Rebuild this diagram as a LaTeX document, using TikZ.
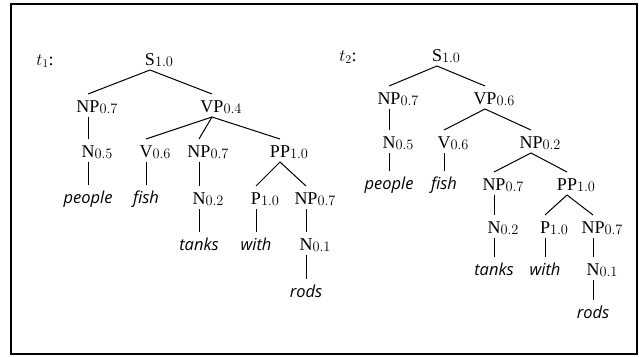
\documentclass[tikz,border=0pt]{standalone}
\usepackage{fontspec}
\setmainfont{Liberation Serif}
\newfontfamily\wordfont{Open Sans}
\newcommand{\lab}[2]{#1\rlap{\raisebox{-1pt}{\fontsize{14}{14}\selectfont$#2$}}}
\newcommand{\wrd}[1]{{\wordfont\itshape\fontsize{16.5}{18}\selectfont #1}}
\tikzset{
  tn/.style={anchor=base, inner sep=1pt, outer sep=0pt, text height=17pt, text depth=4pt, font=\fontsize{18}{20}\selectfont},
  br/.style={line width=1pt},
}
\begin{document}
\begin{tikzpicture}[x=1pt,y=-1pt]
\useasboundingbox (0,0) rectangle (639,356);
\draw[line width=2.4pt] (11,4) rectangle (637,354);
% tree 1
\node[tn] (t1) at (45,65) {$t_1$:};
\node[tn] (a0) at (150,65) {\lab{S}{1.0}};
\node[tn] (a1) at (88,112) {\lab{NP}{0.7}};
\node[tn] (a2) at (212,112) {\lab{VP}{0.4}};
\node[tn] (a3) at (88,157) {\lab{N}{0.5}};
\node[tn] (a4) at (146,157) {\lab{V}{0.6}};
\node[tn] (a5) at (199,157) {\lab{NP}{0.7}};
\node[tn] (a6) at (280,157) {\lab{PP}{1.0}};
\node[tn] (a7) at (88,203) {\wrd{people}};
\node[tn] (a8) at (146,203) {\wrd{fish}};
\node[tn] (a9) at (199,204) {\lab{N}{0.2}};
\node[tn] (a10) at (256,204) {\lab{P}{1.0}};
\node[tn] (a11) at (306,204) {\lab{NP}{0.7}};
\node[tn] (a12) at (199,250) {\wrd{tanks}};
\node[tn] (a13) at (256,250) {\wrd{with}};
\node[tn] (a14) at (306,250) {\lab{N}{0.1}};
\node[tn] (a15) at (306,297) {\wrd{rods}};
\draw[br] (a1.north) -- (a0.south) -- (a2.north);
\draw[br] (a1.south) -- (a3.north);
\draw[br] (a4.north) -- (a2.south) -- (a6.north);
\draw[br] (a2.south) -- (a5.north);
\draw[br] (a3.south) -- (a7.north);
\draw[br] (a4.south) -- (a8.north);
\draw[br] (a5.south) -- (a9.north);
\draw[br] (a10.north) -- (a6.south) -- (a11.north);
\draw[br] (a9.south) -- (a12.north);
\draw[br] (a10.south) -- (a13.north);
\draw[br] (a11.south) -- (a14.north);
\draw[br] (a14.south) -- (a15.north);
% tree 2
\node[tn] (t2) at (348,61) {$t_2$:};
\node[tn] (b0) at (437,61) {\lab{S}{1.0}};
\node[tn] (b1) at (389,104) {\lab{NP}{0.7}};
\node[tn] (b2) at (485,104) {\lab{VP}{0.6}};
\node[tn] (b3) at (389,148) {\lab{N}{0.5}};
\node[tn] (b4) at (444,148) {\lab{V}{0.6}};
\node[tn] (b5) at (531,148) {\lab{NP}{0.2}};
\node[tn] (b6) at (389,189) {\wrd{people}};
\node[tn] (b7) at (444,189) {\wrd{fish}};
\node[tn] (b8) at (494,190) {\lab{NP}{0.7}};
\node[tn] (b9) at (567,190) {\lab{PP}{1.0}};
\node[tn] (b10) at (494,233) {\lab{N}{0.2}};
\node[tn] (b11) at (545,233) {\lab{P}{1.0}};
\node[tn] (b12) at (593,233) {\lab{NP}{0.7}};
\node[tn] (b13) at (494,275) {\wrd{tanks}};
\node[tn] (b14) at (545,275) {\wrd{with}};
\node[tn] (b15) at (593,275) {\lab{N}{0.1}};
\node[tn] (b16) at (593,318) {\wrd{rods}};
\draw[br] (b1.north) -- (b0.south) -- (b2.north);
\draw[br] (b1.south) -- (b3.north);
\draw[br] (b4.north) -- (b2.south) -- (b5.north);
\draw[br] (b3.south) -- (b6.north);
\draw[br] (b4.south) -- (b7.north);
\draw[br] (b8.north) -- (b5.south) -- (b9.north);
\draw[br] (b8.south) -- (b10.north);
\draw[br] (b11.north) -- (b9.south) -- (b12.north);
\draw[br] (b10.south) -- (b13.north);
\draw[br] (b11.south) -- (b14.north);
\draw[br] (b12.south) -- (b15.north);
\draw[br] (b15.south) -- (b16.north);
\end{tikzpicture}
\end{document}
